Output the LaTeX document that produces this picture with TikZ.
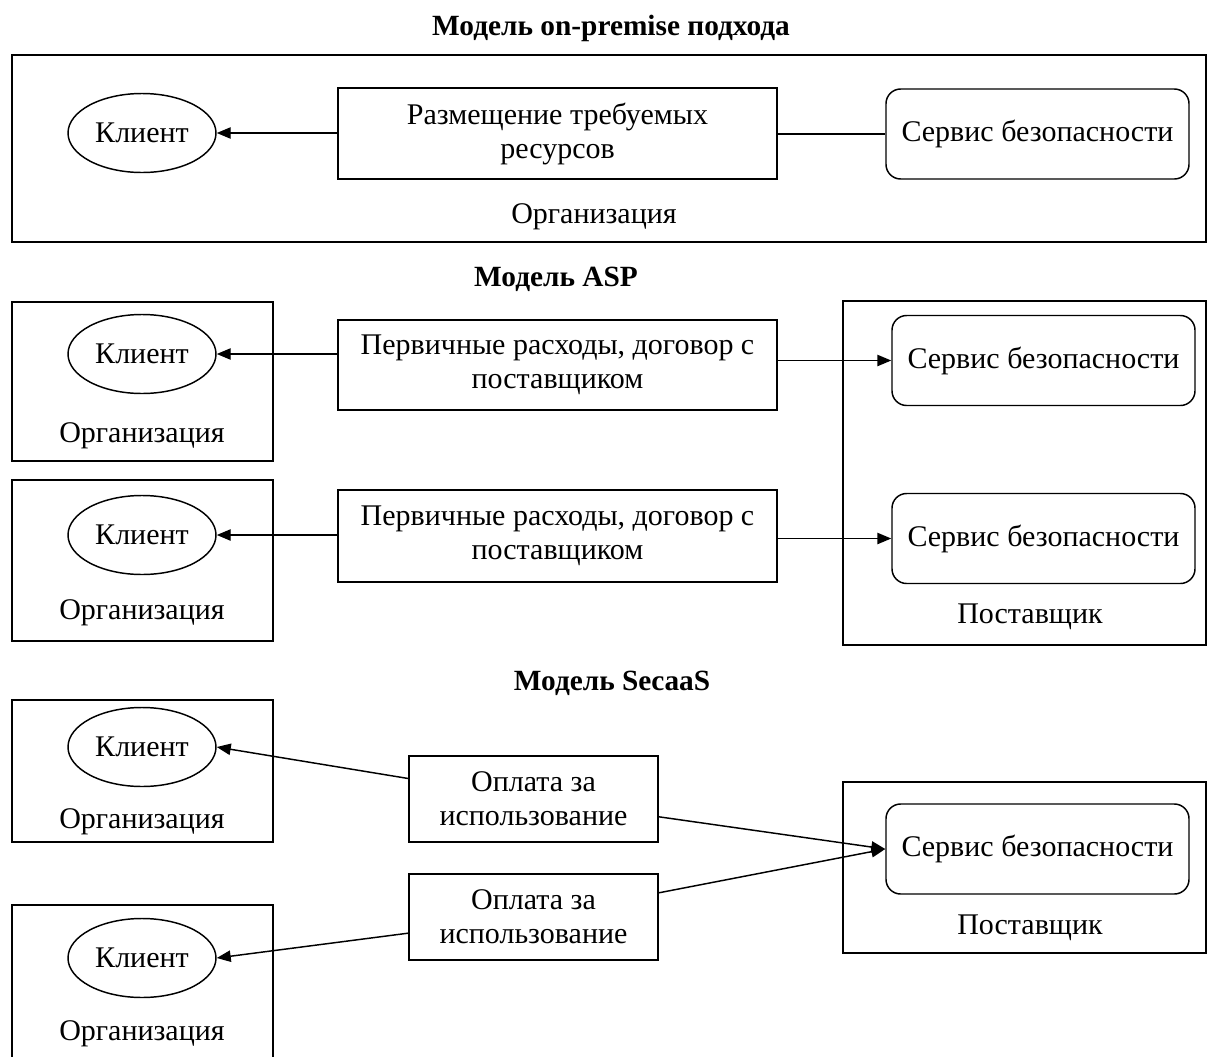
\documentclass[tikz,border=0pt]{standalone}
\usepackage{fontspec}
\setmainfont{Liberation Serif}
\usetikzlibrary{arrows.meta,shapes.geometric}

\begin{document}
\begin{tikzpicture}[x=0.75pt, y=-0.75pt, line width=1.1pt,
  every node/.style={font=\fontsize{22.5}{25.5}\selectfont, inner sep=0pt, align=center},
  sized/.style 2 args={minimum width=#1*0.75pt, minimum height=#2*0.75pt},
  frame/.style={draw, rectangle},
  client/.style={draw, ellipse, sized={148}{79}},
  stage/.style={draw, rectangle},
  service/.style={draw, rectangle, rounded corners=11pt, sized={303}{90}},
  title/.style={font=\fontsize{22}{25.5}\selectfont\bfseries},
  flow/.style={-{Triangle[length=10.5pt, width=8.5pt]}}
]
\useasboundingbox (0,0) rectangle (1208,1057);

% ---------- on-premise ----------
\node[title] (t1) at (611,28) {Модель on-premise подхода};
\node[frame, sized={1194}{187}] (org0) at (609,148.5) {};
\node[client] (cl0) at (142,133) {Клиент};
\node[stage, sized={439}{91}] (res0) at (557.5,133.5) {Размещение требуемых\\ресурсов};
\node[service] (sv0) at (1037.5,134) {Сервис безопасности};
\node (orgl0) at (594,217) {Организация};
\draw[flow] (res0.west |- cl0.east) -- (cl0.east);
\draw (res0.east |- sv0.west) -- (sv0.west);

% ---------- ASP ----------
\node[title] (t2) at (556,279) {Модель ASP};
\node[frame, sized={261}{159}] (org1) at (142.5,381.5) {};
\node[client] (cl1) at (142,354) {Клиент};
\node (orgl1) at (142,436) {Организация};
\node[frame, sized={261}{161}] (org2) at (142.5,560.5) {};
\node[client] (cl2) at (142,535) {Клиент};
\node (orgl2) at (142,613) {Организация};

\node[stage, sized={439}{90}] (asp1) at (557.5,365) {Первичные расходы, договор с\\поставщиком};
\node[stage, sized={439}{92}] (asp2) at (557.5,536) {Первичные расходы, договор с\\поставщиком};

\node[frame, sized={363}{344}] (prov1) at (1024.5,473) {};
\node[service] (sv1) at (1043.5,360.5) {Сервис безопасности};
\node[service] (sv2) at (1043.5,538.5) {Сервис безопасности};
\node (provl1) at (1030,617) {Поставщик};

\draw[flow] (asp1.west |- cl1.east) -- (cl1.east);
\draw[flow] (asp2.west |- cl2.east) -- (cl2.east);
\draw[flow] (asp1.east |- sv1.west) -- (sv1.west);
\draw[flow] (asp2.east |- sv2.west) -- (sv2.west);

% ---------- SecaaS ----------
\node[title] (t3) at (612,683) {Модель SecaaS};
\node[frame, sized={261}{142}] (org3) at (142.5,771) {};
\node[client] (cl3) at (142,747) {Клиент};
\node (orgl3) at (142,822) {Организация};
\node[frame, sized={261}{170}] (org4) at (142.5,990) {};
\node[client] (cl4) at (142,958) {Клиент};
\node (orgl4) at (142,1034) {Организация};

\node[stage, sized={249}{86}] (pay1) at (533.5,799) {Оплата за\\использование};
\node[stage, sized={249}{86}] (pay2) at (533.5,917) {Оплата за\\использование};

\node[frame, sized={363}{171}] (prov2) at (1024.5,867.5) {};
\node[service] (sv3) at (1037.5,849) {Сервис безопасности};
\node (provl2) at (1030,928) {Поставщик};

\draw[flow] (pay1) -- (cl3.east);
\draw[flow] (pay2) -- (cl4.east);
\draw[flow] (pay1) -- (sv3.west);
\draw[flow] (pay2) -- (sv3.west);
\end{tikzpicture}
\end{document}
